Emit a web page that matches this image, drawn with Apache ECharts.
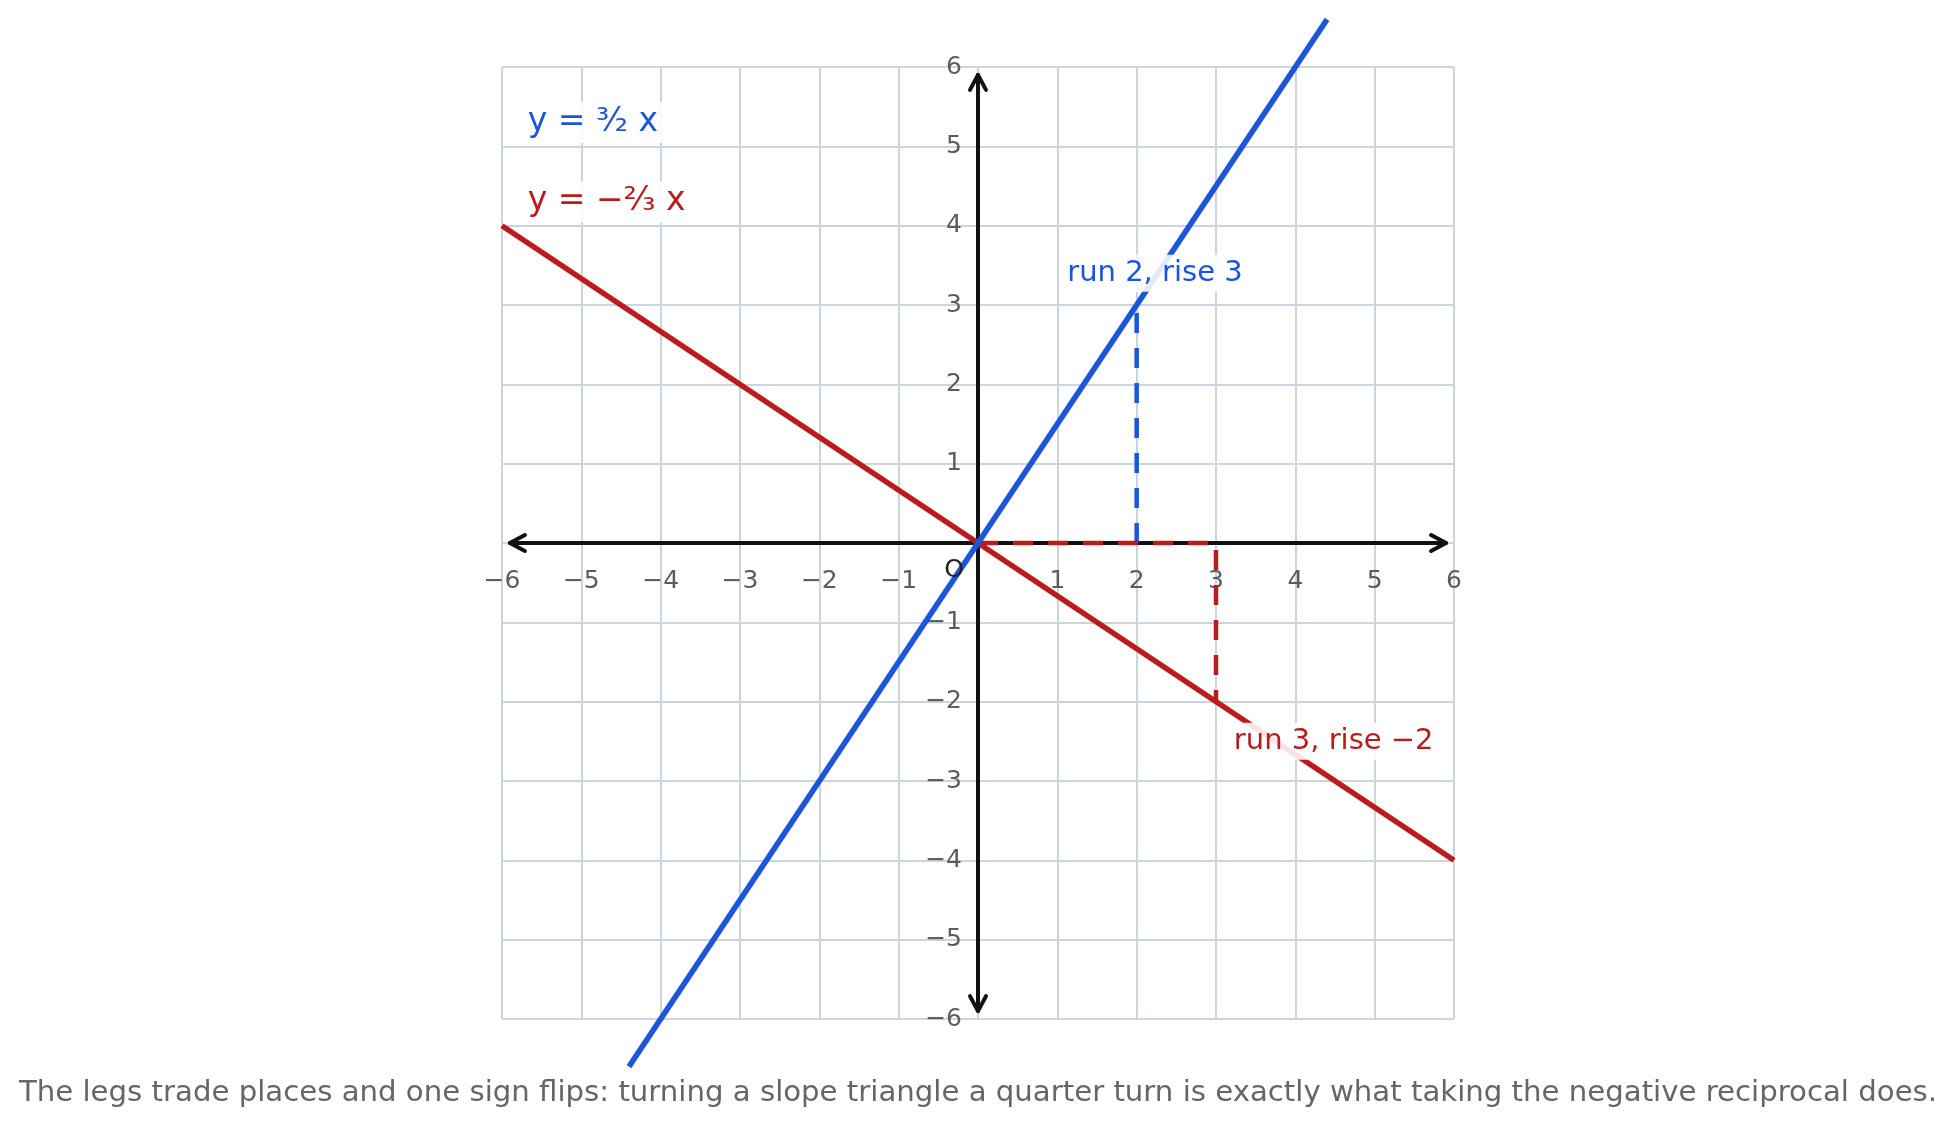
<!DOCTYPE html>
<html>
<head>
<meta charset="utf-8">
<script src="https://cdn.jsdelivr.net/npm/echarts@6/dist/echarts.min.js"></script>
<style>
  html, body { margin: 0; padding: 0; background: #fff; }
  #chart { width: 1956px; height: 1125px; }
</style>
</head>
<body>
<div id="chart"></div>
<script>
// axis range
var axisMin = -6, axisMax = 6, axisStep = 1;
var arrowEnd = 5.9;
var tickValues = [-6, -5, -4, -3, -2, -1, 1, 2, 3, 4, 5, 6];

// the two lines
var steepLine = [[-4.4, -6.6], [4.4, 6.6]];     // y = 3/2 x
var flatLine = [[-6, 4], [6, -4]];              // y = -2/3 x

// slope triangles
var steepRise = [[2, 0], [2, 3]];
var flatLegs = [[0, 0], [3, 0], [3, -2]];

// text labels
var eqLabels = [
  { pos: [-5.7, 5.3], text: 'y = ³⁄₂ x', color: '#1a56db' },
  { pos: [-5.7, 4.3], text: 'y = −²⁄₃ x', color: '#b91c1c' }
];
var legLabels = [
  { pos: [1.1, 3.4], text: 'run 2, rise 3', color: '#1a56db' },
  { pos: [3.2, -2.5], text: 'run 3, rise −2', color: '#b91c1c' }
];
var caption = 'The legs trade places and one sign flips: turning a slope triangle a quarter turn is exactly what taking the negative reciprocal does.';

var BLUE = '#1a56db', RED = '#b91c1c', FONT = 'DejaVu Sans';
var TICK_FONT = '25px "DejaVu Sans"';

function tickFmt(v) {
  if (v === 0) return '';
  return v < 0 ? '\u2212' + Math.abs(v) : String(v);
}

function axisOpt() {
  return {
    type: 'value',
    min: axisMin,
    max: axisMax,
    interval: axisStep,
    axisLine: { show: false },
    axisTick: { show: false },
    axisLabel: { show: false },
    splitLine: { show: true, lineStyle: { color: '#cbd5e1', width: 2 } }
  };
}

// black axes with open arrowheads at both ends
function drawAxes(params, api) {
  var children = [];
  var style = { stroke: '#111', lineWidth: 4, fill: null, lineCap: 'round', lineJoin: 'round' };
  var L = 15, W = 8;
  var ends = [
    [api.coord([-arrowEnd, 0]), api.coord([arrowEnd, 0]), 'h'],
    [api.coord([0, -arrowEnd]), api.coord([0, arrowEnd]), 'v']
  ];
  ends.forEach(function (e) {
    var a = e[0], b = e[1];
    children.push({ type: 'line', shape: { x1: a[0], y1: a[1], x2: b[0], y2: b[1] }, style: style });
    if (e[2] === 'h') {
      children.push({ type: 'polyline', shape: { points: [[a[0] + L, a[1] - W], a, [a[0] + L, a[1] + W]] }, style: style });
      children.push({ type: 'polyline', shape: { points: [[b[0] - L, b[1] - W], b, [b[0] - L, b[1] + W]] }, style: style });
    } else {
      children.push({ type: 'polyline', shape: { points: [[a[0] - W, a[1] - L], a, [a[0] + W, a[1] - L]] }, style: style });
      children.push({ type: 'polyline', shape: { points: [[b[0] - W, b[1] + L], b, [b[0] + W, b[1] + L]] }, style: style });
    }
  });
  return { type: 'group', children: children };
}

// tick labels sit along the axes through the origin
function xTickLabel(params, api) {
  var v = api.value(0);
  var p = api.coord([v, 0]);
  return {
    type: 'text', x: p[0], y: p[1] + 38,
    style: { text: tickFmt(v), fill: '#5c5c5c', font: TICK_FONT, align: 'center', verticalAlign: 'middle' }
  };
}
function yTickLabel(params, api) {
  var v = api.value(0);
  var p = api.coord([0, v]);
  return {
    type: 'text', x: p[0] - 16, y: p[1],
    style: { text: tickFmt(v), fill: '#5c5c5c', font: TICK_FONT, align: 'right', verticalAlign: 'middle' }
  };
}

function textSeries(items, size, z) {
  return {
    type: 'scatter',
    symbolSize: 0,
    silent: true,
    z: z,
    itemStyle: { opacity: 1 },
    data: items.map(function (d) {
      return {
        value: d.pos,
        label: {
          show: true,
          formatter: d.text,
          position: [0, 0],
          align: 'left',
          verticalAlign: 'middle',
          color: d.color,
          opacity: 1,
          fontSize: size,
          fontFamily: FONT,
          backgroundColor: 'rgba(255,255,255,0.88)',
          padding: [4, 6, 4, 2]
        }
      };
    })
  };
}

var chart = echarts.init(document.getElementById('chart'));
chart.setOption({
  animation: false,
  backgroundColor: '#fff',
  title: {
    text: caption,
    left: 'center',
    top: 1074,
    textStyle: { fontSize: 29.2, fontWeight: 'normal', color: '#666', fontFamily: FONT }
  },
  grid: { left: 502, top: 67, width: 952, height: 952 },
  xAxis: axisOpt(),
  yAxis: axisOpt(),
  series: [
    { type: 'custom', renderItem: drawAxes, data: [0], z: 1, silent: true, clip: false },
    { type: 'custom', renderItem: xTickLabel, data: tickValues, z: 1, silent: true, clip: false },
    { type: 'custom', renderItem: yTickLabel, data: tickValues, z: 1, silent: true, clip: false },
    {
      type: 'line', data: steepRise, symbol: 'none', z: 2, clip: false,
      lineStyle: { color: BLUE, width: 4.5, type: [20, 15] }
    },
    {
      type: 'line', data: flatLegs, symbol: 'none', z: 2, clip: false,
      lineStyle: { color: RED, width: 4.5, type: [20, 15] }
    },
    {
      type: 'line', data: flatLine, symbol: 'none', z: 3, clip: false,
      lineStyle: { color: RED, width: 5.5 }
    },
    {
      type: 'line', data: steepLine, symbol: 'none', z: 3, clip: false,
      lineStyle: { color: BLUE, width: 5.5 }
    },
    textSeries(eqLabels, 33, 5),
    textSeries(legLabels, 29, 5),
    {
      type: 'scatter', symbolSize: 0, silent: true, z: 5, itemStyle: { opacity: 1 },
      data: [{
        value: [0, 0],
        label: {
          show: true, formatter: 'O', position: [-14, 15], align: 'right', verticalAlign: 'top',
          color: '#222', opacity: 1, fontSize: 25, fontFamily: FONT
        }
      }]
    }
  ]
});
</script>
</body>
</html>
